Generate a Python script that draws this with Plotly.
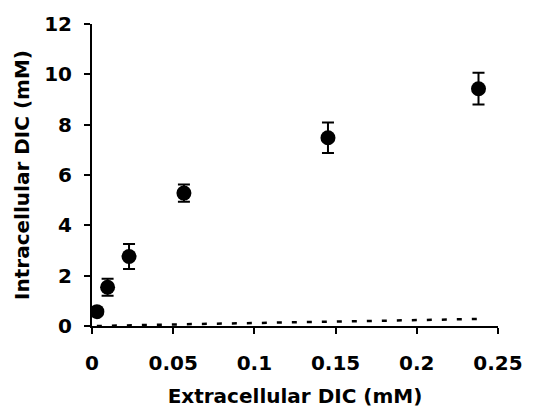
import plotly.graph_objects as go

# Extracellular vs intracellular dissolved inorganic carbon
extracellular_dic = [0.003, 0.0096, 0.0228, 0.0566, 0.1453, 0.238]
intracellular_dic = [0.57, 1.54, 2.76, 5.28, 7.48, 9.43]
intracellular_err = [0.12, 0.34, 0.5, 0.34, 0.61, 0.63]

# Equilibrium (passive diffusion) expectation
passive_x = [0.003, 0.0096, 0.0228, 0.0566, 0.1453, 0.238]
passive_y = [0.0, 0.01, 0.03, 0.07, 0.17, 0.28]

x_ticks = [0, 0.05, 0.1, 0.15, 0.2, 0.25]
x_tick_labels = ["0", "0.05", "0.1", "0.15", "0.2", "0.25"]
y_ticks = [0, 2, 4, 6, 8, 10, 12]

font_family = "DejaVu Sans, Liberation Sans, Arial, sans-serif"
text_font = dict(family=font_family, size=20, color="black", weight="bold")

fig = go.Figure()

fig.add_trace(go.Scatter(
    x=passive_x, y=passive_y, mode="lines",
    line=dict(color="black", width=2.5, dash="5px,10px"),
    showlegend=False, hoverinfo="skip",
))

fig.add_trace(go.Scatter(
    x=extracellular_dic, y=intracellular_dic, mode="markers",
    marker=dict(color="black", size=15, symbol="circle"),
    error_y=dict(type="data", array=intracellular_err, visible=True,
                 color="black", thickness=2, width=6),
    showlegend=False,
))

axis_common = dict(
    showgrid=False, zeroline=False, showline=True, linecolor="black",
    linewidth=2, ticks="outside", ticklen=6, tickwidth=2, tickcolor="black",
    tickfont=text_font,
)

fig.update_layout(
    width=544, height=416,
    margin=dict(l=92, r=46, t=22, b=89),
    plot_bgcolor="white", paper_bgcolor="white",
    xaxis=dict(
        range=[0, 0.25], tickvals=x_ticks, ticktext=x_tick_labels,
        ticklabelstandoff=12,
        title=dict(text="Extracellular DIC (mM)", standoff=15, font=text_font),
        **axis_common,
    ),
    yaxis=dict(
        range=[0, 12], tickvals=y_ticks, ticklabelstandoff=8,
        title=dict(text="Intracellular DIC (mM)", standoff=9, font=text_font),
        **axis_common,
    ),
)

fig.write_html("out.html")
